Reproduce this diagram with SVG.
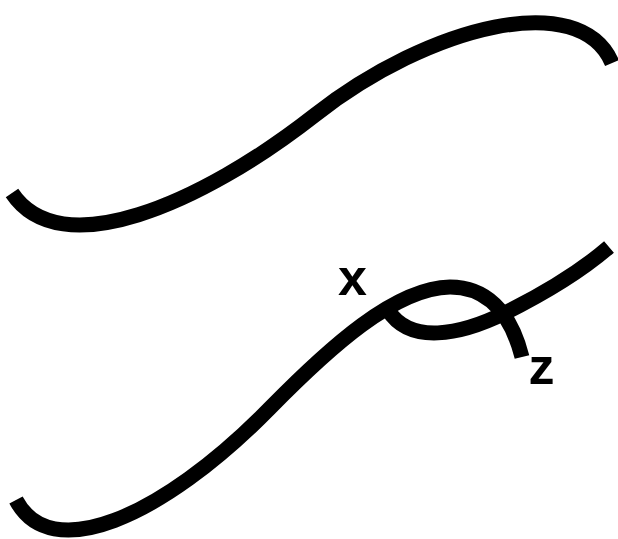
<svg xmlns="http://www.w3.org/2000/svg" width="618" height="539" viewBox="0 0 618 539">
<style>
.c{fill:none;stroke:#000;stroke-width:15;stroke-linecap:butt;stroke-linejoin:round}
.l{font-family:"Liberation Sans",Arial,sans-serif;font-weight:bold;font-size:52px;fill:#000;text-anchor:middle}
</style>
<rect width="618" height="539" fill="#fff"/>
<g id="connectors">
<path id="top-curve" class="c" d="M12,193 C60,265 200,205 315,115 C430,25 580,-12 612,63"/>
<path id="bottom-main" class="c" d="M16,500 C50,565 160,520 270,408 C330,347 395,288 450,287 C485,287 510,310 522,357"/>
<path id="bottom-branch" class="c" d="M388,310 C410,345 460,335 505,313 C541,295 580,272 609,247"/>
</g>
<g id="label-x"><text class="l" x="352.5" y="295">x</text></g>
<g id="label-z"><text class="l" x="541.5" y="384">z</text></g>
</svg>
